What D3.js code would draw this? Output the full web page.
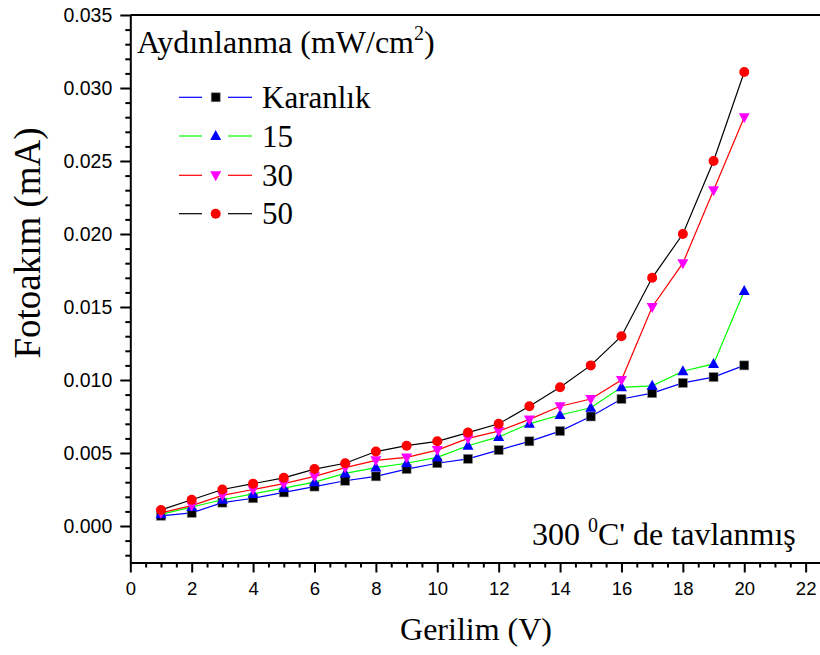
<!DOCTYPE html>
<html>
<head>
<meta charset="utf-8">
<script src="https://cdn.jsdelivr.net/npm/d3@7"></script>
<style>
  html, body { margin: 0; padding: 0; background: #fff; }
  svg { display: block; }
  .serif { font-family: "Liberation Serif", "DejaVu Serif", serif; }
  .sans { font-family: "Liberation Sans", Arial, sans-serif; }
</style>
</head>
<body>
<svg id="chart" width="820" height="655"></svg>
<script>
// ---- data ----
const voltages = [1,2,3,4,5,6,7,8,9,10,11,12,13,14,15,16,17,18,19,20];
const karanlik = [0.0007,0.0009,0.0016,0.0019,0.0023,0.0027,0.0031,0.0034,0.0039,0.0043,0.0046,0.0052,0.0058,0.0065,0.0075,0.0087,0.0091,0.0098,0.0102,0.0110];
const ill15    = [0.0008,0.0013,0.0018,0.0022,0.0026,0.0030,0.0036,0.0040,0.0043,0.0047,0.0055,0.0061,0.0070,0.0076,0.0081,0.0095,0.0096,0.0106,0.0111,0.0161];
const ill30    = [0.0009,0.0014,0.0021,0.0025,0.0029,0.0034,0.0040,0.0045,0.0047,0.0052,0.0060,0.0065,0.0073,0.0082,0.0087,0.0100,0.0150,0.0180,0.0230,0.0280];
const ill50    = [0.0011,0.0018,0.0025,0.0029,0.0033,0.0039,0.0043,0.0051,0.0055,0.0058,0.0064,0.0070,0.0082,0.0095,0.0110,0.0130,0.0170,0.0200,0.0250,0.0311];
const seriesNames = ["Karanlık","15","30","50"];
const xMajorTicks = [0,2,4,6,8,10,12,14,16,18,20,22];
const yMajorTicks = [0.000,0.005,0.010,0.015,0.020,0.025,0.030,0.035];

const seriesValues = [karanlik, ill15, ill30, ill50];
const lineColors = ["#0000ff","#00ff00","#ff0000","#000000"];
const markerColors = ["#000000","#0000ff","#ff00ff","#ff0000"];
const markerTypes = ["square","triangle","triangleDown","circle"];

const svg = d3.select("#chart");
const x = d3.scaleLinear().domain([0, 22.5]).range([130.3, 821]);
const y = d3.scaleLinear().domain([-0.0025, 0.035]).range([562.5, 15]);

// ---- axes ----
const xMinor = d3.range(0, 22.51, 0.5).filter(v => Math.abs(v/2 - Math.round(v/2)) > 1e-9);
const yMinor = d3.range(-0.002, 0.0351, 0.001).filter(v => Math.abs(v/0.005 - Math.round(v/0.005)) > 1e-6);

const gx = svg.append("g").attr("transform", `translate(0,${y.range()[0]})`);
gx.call(d3.axisBottom(x).tickValues(xMinor).tickSize(5).tickFormat("").tickSizeOuter(0));
gx.call(g => g.selectAll(".domain").remove());
const gx2 = svg.append("g").attr("transform", `translate(0,${y.range()[0]})`);
gx2.call(d3.axisBottom(x).tickValues(xMajorTicks).tickSize(10).tickPadding(9).tickSizeOuter(0).tickFormat(d3.format("d")));
[gx, gx2].forEach(g => {
  g.selectAll("line").attr("stroke", "#000").attr("stroke-width", 2);
});
gx2.select(".domain").attr("stroke", "#000").attr("stroke-width", 2);
gx2.selectAll("text").attr("class", "sans").attr("font-size", 18.5).attr("fill", "#000");
gx2.attr("font-family", null);

const gy = svg.append("g").attr("transform", `translate(${x.range()[0]},0)`);
gy.call(d3.axisLeft(y).tickValues(yMinor).tickSize(5).tickFormat("").tickSizeOuter(0));
gy.call(g => g.selectAll(".domain").remove());
const gy2 = svg.append("g").attr("transform", `translate(${x.range()[0]},0)`);
gy2.call(d3.axisLeft(y).tickValues(yMajorTicks).tickSize(10).tickPadding(8).tickSizeOuter(0).tickFormat(d3.format(".3f")));
[gy, gy2].forEach(g => {
  g.selectAll("line").attr("stroke", "#000").attr("stroke-width", 2);
});
gy2.select(".domain").attr("stroke", "#000").attr("stroke-width", 2);
gy2.selectAll("text").attr("class", "sans").attr("font-size", 19.5).attr("fill", "#000");
gy2.attr("font-family", null);

// top frame line
svg.append("line")
  .attr("x1", x(0)).attr("x2", x(22.5))
  .attr("y1", y(0.035)).attr("y2", y(0.035))
  .attr("stroke", "#000").attr("stroke-width", 2);

// ---- markers ----
function drawMarker(g, type, cx, cy, color) {
  if (type === "square") {
    g.append("rect").attr("x", cx - 4.5).attr("y", cy - 4.5).attr("width", 9).attr("height", 9)
      .attr("fill", color).attr("stroke", "#888").attr("stroke-width", 0.6);
  } else if (type === "triangle") {
    g.append("path").attr("d", `M${cx},${cy-6}L${cx+5.5},${cy+4}L${cx-5.5},${cy+4}Z`).attr("fill", color);
  } else if (type === "triangleDown") {
    g.append("path").attr("d", `M${cx},${cy+6}L${cx+5.5},${cy-4}L${cx-5.5},${cy-4}Z`).attr("fill", color);
  } else {
    g.append("circle").attr("cx", cx).attr("cy", cy).attr("r", 5).attr("fill", color);
  }
}

const line = d3.line().x(d => x(d[0])).y(d => y(d[1]));
seriesValues.forEach((vals, i) => {
  const g = svg.append("g");
  const pts = voltages.map((v, j) => [v, vals[j]]);
  g.append("path").attr("d", line(pts)).attr("fill", "none")
    .attr("stroke", lineColors[i]).attr("stroke-width", 1.2);
  pts.forEach(p => drawMarker(g, markerTypes[i], x(p[0]), y(p[1]), markerColors[i]));
});

// ---- legend ----
const title = svg.append("text").attr("class", "serif").attr("x", 137).attr("y", 53)
  .attr("font-size", 32).attr("fill", "#000");
title.append("tspan").text("Aydınlanma (mW/cm");
title.append("tspan").attr("font-size", 20).attr("dy", -13).text("2");
title.append("tspan").attr("dy", 13).text(")");

const legendY = [97.3, 136, 175.3, 213.7];
seriesNames.forEach((name, i) => {
  const cy = legendY[i];
  svg.append("line").attr("x1", 179).attr("x2", 202).attr("y1", cy).attr("y2", cy)
    .attr("stroke", lineColors[i]).attr("stroke-width", 1.2);
  svg.append("line").attr("x1", 228).attr("x2", 252).attr("y1", cy).attr("y2", cy)
    .attr("stroke", lineColors[i]).attr("stroke-width", 1.2);
  drawMarker(svg, markerTypes[i], 215.7, cy, markerColors[i]);
  svg.append("text").attr("class", "serif").attr("x", 262).attr("y", cy + 10.5)
    .attr("font-size", 31).attr("fill", "#000").text(name);
});

// ---- annotation ----
const ann = svg.append("text").attr("class", "serif").attr("x", 532).attr("y", 545)
  .attr("font-size", 32).attr("fill", "#000");
ann.append("tspan").text("300 ");
ann.append("tspan").attr("font-size", 20).attr("dy", -13).text("0");
ann.append("tspan").attr("dy", 13).text("C' de tavlanmış");

// ---- axis titles ----
svg.append("text").attr("class", "serif").attr("x", 476).attr("y", 640).attr("text-anchor", "middle")
  .attr("font-size", 32).attr("fill", "#000").text("Gerilim (V)");
svg.append("text").attr("class", "serif").attr("transform", "translate(40,243) rotate(-90)").attr("text-anchor", "middle")
  .attr("font-size", 37).attr("fill", "#000").text("Fotoakım (mA)");
</script>
</body>
</html>
